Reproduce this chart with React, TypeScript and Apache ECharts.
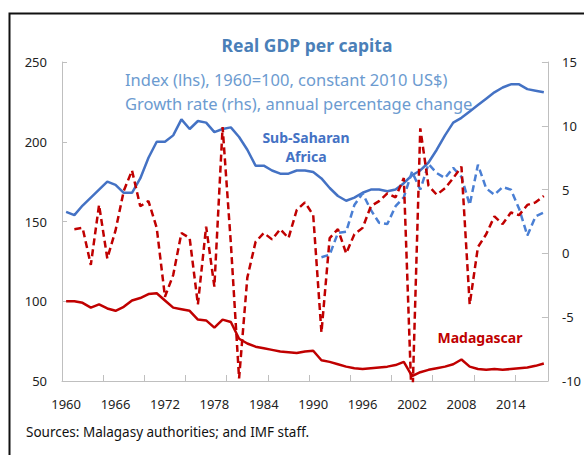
import React, { useEffect, useRef } from 'react';
import * as echarts from 'echarts';

const years = [
  '1960', '1961', '1962', '1963', '1964', '1965', '1966', '1967', '1968', '1969',
  '1970', '1971', '1972', '1973', '1974', '1975', '1976', '1977', '1978', '1979',
  '1980', '1981', '1982', '1983', '1984', '1985', '1986', '1987', '1988', '1989',
  '1990', '1991', '1992', '1993', '1994', '1995', '1996', '1997', '1998', '1999',
  '2000', '2001', '2002', '2003', '2004', '2005', '2006', '2007', '2008', '2009',
  '2010', '2011', '2012', '2013', '2014', '2015', '2016', '2017', '2018',
];

// Sub-Saharan Africa, real GDP per capita index (lhs, 1960=100)
const ssaIndex = [
  156, 154, 160, 165, 170, 175, 173, 168, 168, 177,
  190, 200, 200, 204, 214, 208, 213, 212, 206, 208,
  209, 203, 195, 185, 185, 182, 180, 180, 182, 182,
  181, 177, 171, 166, 163, 165, 168, 170, 170, 169,
  170, 174, 179, 182, 187, 195, 204, 212, 215, 219,
  223, 227, 231, 234, 236, 236, 233, 232, 231,
];

// Sub-Saharan Africa, growth rate (rhs, %)
const ssaGrowth = [
  null, null, null, null, null, null, null, null, null, null,
  null, null, null, null, null, null, null, null, null, null,
  null, null, null, null, null, null, null, null, null, null,
  null, -0.3, -0.1, 1.6, 1.7, 3.8, 4.7, 3.4, 2.4, 2.3,
  3.7, 4.4, 6.4, 5.0, 7.0, 6.3, 5.9, 6.7, 6.0, 3.8,
  6.95, 5.1, 4.6, 5.2, 5.0, 3.5, 1.4, 2.9, 3.2,
];

// Madagascar, real GDP per capita index (lhs, 1960=100)
const madIndex = [
  100, 100, 99, 96, 98, 95.5, 94, 96.5, 100.5, 102,
  104.5, 105, 100.5, 96, 95, 94, 88.5, 88, 83.5, 88.5,
  87, 76.5, 73.5, 71.5, 70.5, 69.5, 68.5, 68, 67.5, 68.5,
  69, 63, 62, 60.5, 59, 58, 57.5, 58, 58.5, 59,
  60, 62, 53, 55.5, 57, 58, 59, 60.5, 63.5, 59,
  57.5, 57, 57.5, 57, 57.5, 58, 58.5, 59.5, 61,
];

// Madagascar, growth rate (rhs, %)
const madGrowth = [
  null, 1.9, 2.0, -0.9, 3.8, -0.4, 1.8, 4.9, 6.5, 3.7,
  4.1, 2.0, -3.4, -1.7, 1.6, 1.2, -4.0, 2.1, -2.6, 9.9,
  0.8, -9.8, -1.9, 0.9, 1.6, 1.1, 1.9, 1.2, 3.4, 4.0,
  3.0, -6.2, 1.2, 1.9, 0.0, 1.5, 2.0, 3.7, 4.1, 4.7,
  4.4, 5.9, -12.4, 9.8, 5.3, 4.6, 5.1, 5.9, 6.8, -4.0,
  0.5, 1.5, 2.9, 2.3, 3.2, 3.0, 3.8, 4.0, 4.5,
];

const BLUE = '#4472c4';
const RED = '#c00000';
const AXIS = '#bfbfbf';
const FONT = 'Noto Sans';

export default function App() {
  const ref = useRef<HTMLDivElement>(null);

  useEffect(() => {
    if (!ref.current) return;
    const chart = echarts.init(ref.current, null, { renderer: 'svg' });
    chart.setOption({
      animation: false,
      backgroundColor: '#ffffff',
      grid: { left: 62, right: 35, top: 62, bottom: 74, containLabel: false },
      xAxis: {
        type: 'category',
        data: years,
        boundaryGap: true,
        axisLine: { show: true, onZero: false, lineStyle: { color: AXIS, width: 1 } },
        axisTick: { show: true, inside: true, interval: 4, length: 6, lineStyle: { color: AXIS } },
        axisLabel: { interval: 5, margin: 16, color: '#222', fontSize: 13, fontFamily: FONT },
        splitLine: { show: false },
      },
      yAxis: [
        {
          type: 'value',
          min: 50,
          max: 250,
          interval: 50,
          position: 'left',
          axisLine: { show: true, lineStyle: { color: AXIS, width: 1 } },
          axisTick: { show: true, inside: true, length: 5, lineStyle: { color: AXIS } },
          axisLabel: { margin: 15, color: '#222', fontSize: 13, fontFamily: FONT },
          splitLine: { show: false },
        },
        {
          type: 'value',
          min: -10,
          max: 15,
          interval: 5,
          position: 'right',
          axisLine: { show: true, lineStyle: { color: AXIS, width: 1 } },
          axisTick: { show: true, inside: true, length: 6, lineStyle: { color: AXIS } },
          axisLabel: { margin: 14, color: '#222', fontSize: 13, fontFamily: FONT },
          splitLine: { show: false },
        },
      ],
      series: [
        {
          name: 'SSA index',
          type: 'line',
          yAxisIndex: 0,
          data: ssaIndex,
          symbol: 'none',
          lineStyle: { color: BLUE, width: 2.5 },
          z: 2,
        },
        {
          name: 'SSA growth',
          type: 'line',
          yAxisIndex: 1,
          data: ssaGrowth,
          symbol: 'none',
          lineStyle: { color: '#4a7fd4', width: 2.5, type: [7, 4] },
          z: 3,
        },
        {
          name: 'Madagascar index',
          type: 'line',
          yAxisIndex: 0,
          data: madIndex,
          symbol: 'none',
          lineStyle: { color: RED, width: 2.5 },
          z: 4,
        },
        {
          name: 'Madagascar growth',
          type: 'line',
          yAxisIndex: 1,
          data: madGrowth,
          symbol: 'none',
          clip: true,
          lineStyle: { color: RED, width: 2.5, type: [7, 4] },
          z: 5,
        },
      ],
      graphic: [
        {
          type: 'rect',
          shape: { x: 9.5, y: 13.5, width: 700, height: 600 },
          style: { fill: 'none', stroke: '#111', lineWidth: 2 },
          silent: true,
        },
        {
          type: 'text',
          x: 307,
          y: 45,
          style: {
            text: 'Real GDP per capita',
            fill: '#4a7fb8',
            font: `bold 17.5px "${FONT}"`,
            textAlign: 'center',
            textVerticalAlign: 'middle',
          },
        },
        {
          type: 'text',
          x: 125,
          y: 79,
          style: {
            text: 'Index (lhs), 1960=100, constant 2010 US$)',
            fill: '#6c9bd0',
            font: `16.5px "${FONT}"`,
            textAlign: 'left',
            textVerticalAlign: 'middle',
          },
        },
        {
          type: 'text',
          x: 125,
          y: 103,
          style: {
            text: 'Growth rate (rhs), annual percentage change',
            fill: '#6c9bd0',
            font: `16.5px "${FONT}"`,
            textAlign: 'left',
            textVerticalAlign: 'middle',
          },
        },
        {
          type: 'text',
          x: 306,
          y: 137,
          style: {
            text: 'Sub-Saharan',
            fill: BLUE,
            font: `bold 14px "${FONT}"`,
            textAlign: 'center',
            textVerticalAlign: 'middle',
          },
        },
        {
          type: 'text',
          x: 306,
          y: 156,
          style: {
            text: 'Africa',
            fill: BLUE,
            font: `bold 14px "${FONT}"`,
            textAlign: 'center',
            textVerticalAlign: 'middle',
          },
        },
        {
          type: 'text',
          x: 480,
          y: 337,
          style: {
            text: 'Madagascar',
            fill: RED,
            font: `bold 14px "${FONT}"`,
            textAlign: 'center',
            textVerticalAlign: 'middle',
          },
        },
        {
          type: 'text',
          x: 26,
          y: 432,
          style: {
            text: 'Sources: Malagasy authorities; and IMF staff.',
            fill: '#111',
            font: `13.5px "${FONT}"`,
            textAlign: 'left',
            textVerticalAlign: 'middle',
          },
        },
      ],
    });
    return () => chart.dispose();
  }, []);

  return (
    <div
      ref={ref}
      style={{ position: 'fixed', left: 0, top: 0, width: 584, height: 455, background: '#fff' }}
    />
  );
}
